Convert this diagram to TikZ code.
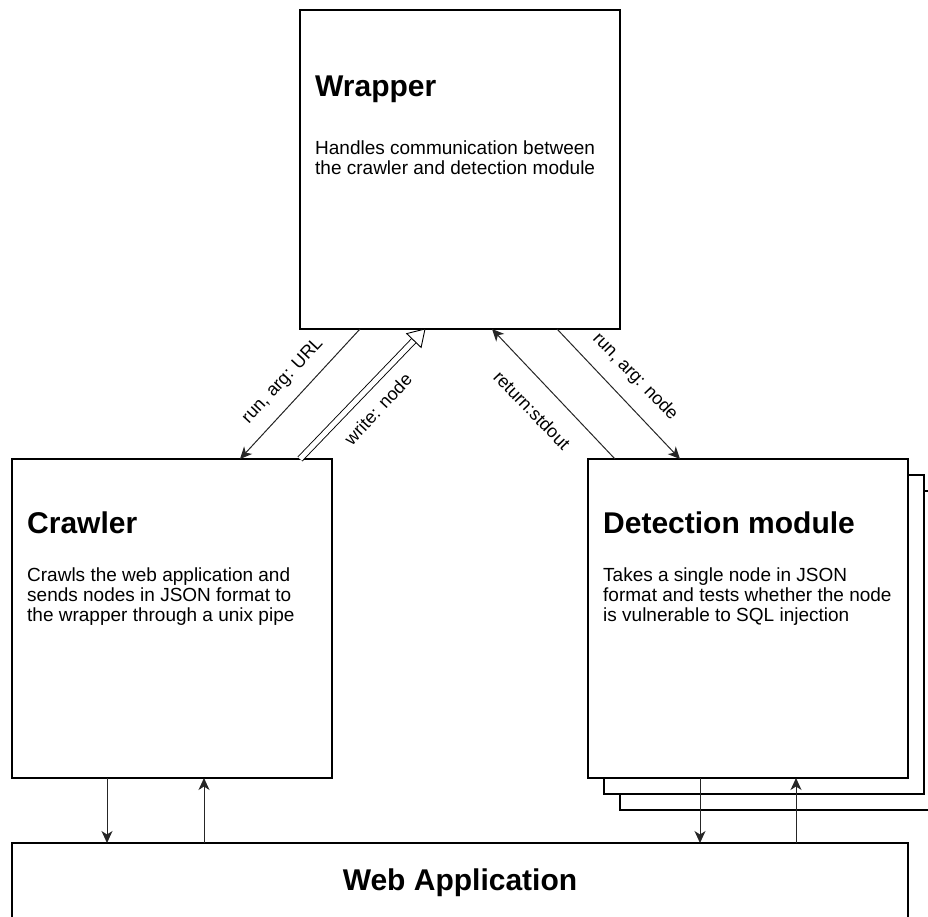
\documentclass[tikz,border=0pt]{standalone}
\usepackage{fontspec}
\setmainfont{Liberation Sans}
\usetikzlibrary{arrows.meta,calc}
\begin{document}
\begin{tikzpicture}[x=1pt,y=-1pt,
  box/.style={draw=black,line width=1.3pt,fill=white,inner sep=0pt,outer sep=0pt,
    minimum width=320pt,minimum height=319pt,anchor=north west},
  ttl/.style={font=\fontsize{30}{36}\selectfont\bfseries,inner sep=0pt,anchor=base west},
  bodytxt/.style={font=\fontsize{19}{20}\selectfont,inner sep=0pt,anchor=north west,align=left},
  lbl/.style={font=\fontsize{18}{20}\selectfont,inner sep=0pt},
  conn/.style={draw=black!85,line width=1pt,-{Stealth[length=12pt,width=11pt,inset=3.5pt]}},
]
\useasboundingbox (0,0) rectangle (928,917);
\clip (0,0) rectangle (928,917);

% boxes
\node[box] (wrapper) at (300,10) {};
\node[box] (crawler) at (12,459) {};
\node[box] (det3) at (620,491) {};
\node[box] (det2) at (604,475) {};
\node[box] (det) at (588,459) {};
\node[box,minimum width=896pt,minimum height=120pt] (web) at (12,843) {};

% texts
\node[ttl] (wt) at (315,97) {Wrapper};
\node[bodytxt] (wb) at (315,141) {Handles communication between\\the crawler and detection module};
\node[ttl] (ct) at (27,533) {Crawler};
\node[bodytxt] (cb) at (27,568) {Crawls the web application and\\sends nodes in JSON format to\\the wrapper through a unix pipe};
\node[ttl] (dt) at (603,533) {Detection module};
\node[bodytxt] (db) at (603,568) {Takes a single node in JSON\\format and tests whether the node\\is vulnerable to SQL injection};
\node[ttl,anchor=base] (wat) at (460,890) {Web Application};

% top connectors
\coordinate (u1) at ([xshift=60pt]wrapper.south west);
\coordinate (u2) at ([xshift=228pt]crawler.north west);
\draw[conn] (u1) -- (u2);

\coordinate (w1) at ([xshift=288pt]crawler.north west);
\coordinate (w2) at ([xshift=125pt]wrapper.south west);
\coordinate (w3) at ($(w2)!16pt!(w1)$);
\draw[line width=0.9pt,double=white,double distance=5pt] (w1) -- (w3);
\draw[line width=0.9pt,fill=white,line join=miter] (w2) -- ($(w3)!10pt!90:(w2)$) -- ($(w3)!10pt!-90:(w2)$) -- cycle;

\coordinate (s1) at ([xshift=27pt]det.north west);
\coordinate (s2) at ([xshift=192pt]wrapper.south west);
\draw[conn] (s1) -- (s2);

\coordinate (n1) at ([xshift=257pt]wrapper.south west);
\coordinate (n2) at ([xshift=92pt]det.north west);
\draw[conn] (n1) -- (n2);

% labels
\node[lbl,rotate=47] (lurl) at (283,381) {run, arg: URL};
\node[lbl,rotate=47] (lwrite) at (378,409) {write: node};
\node[lbl,rotate=-46] (lstd) at (532,410) {return:stdout};
\node[lbl,rotate=-46] (lnode) at (635,377) {run, arg: node};

% bottom connectors
\coordinate (c1) at ([xshift=95pt]crawler.south west);
\draw[conn] (c1) -- (c1 |- web.north);
\coordinate (c2) at ([xshift=192pt]crawler.south west);
\draw[conn] (c2 |- web.north) -- (c2);
\coordinate (d1) at ([xshift=112pt]det.south west);
\draw[conn] (d1) -- (d1 |- web.north);
\coordinate (d2) at ([xshift=208pt]det.south west);
\draw[conn] (d2 |- web.north) -- (d2);
\end{tikzpicture}
\end{document}
